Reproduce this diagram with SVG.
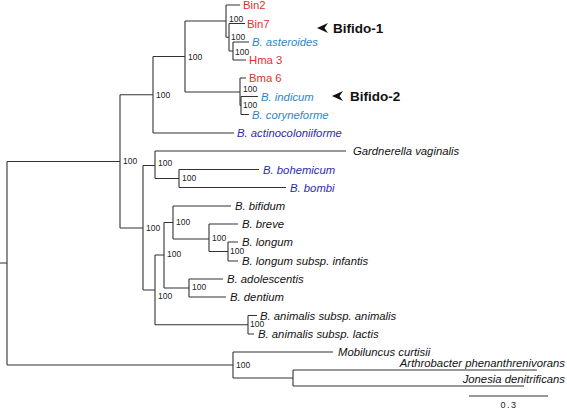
<svg xmlns="http://www.w3.org/2000/svg" width="567" height="412" viewBox="0 0 567 412">
<style>
.br{stroke:#333;stroke-width:1.1;fill:none}
.lf{font-family:"Liberation Sans",Arial,sans-serif;font-size:11.3px;font-style:italic;fill:#111}
.red{font-family:"Liberation Sans",Arial,sans-serif;font-size:11.3px;fill:#e0302c}
.lb{fill:#2d86c4}
.db{fill:#2b2bb0}
.bs{font-family:"Liberation Sans",Arial,sans-serif;font-size:8.5px;fill:#222}
.tag{font-family:"Liberation Sans",Arial,sans-serif;font-size:13.5px;font-weight:bold;fill:#111}
</style>
<rect width="567" height="412" fill="#fff"/>
<g id="connectors" class="br">
<path d="M0,263H7M7,161.5V365M7,161.5H120M7,365H233"/>
<path d="M120,94.75V228M120,94.75H153M120,228H143"/>
<path d="M153,56.5V133M153,56.5H185M153,133H234"/>
<path d="M185,21V92M185,21H226M185,92H240"/>
<path d="M226,5V37.3M226,5H240M226,37.3H229"/>
<path d="M229,23.5V51M229,23.5H245M229,51H233"/>
<path d="M233,42V60M233,42H249M233,60H246"/>
<path d="M240,78V105.5M240,78H246M240,105.5H241"/>
<path d="M241,96.5V114.5M241,96.5H258M241,114.5H249"/>
<path d="M143,165.5V290M143,165.5H155M143,290H155"/>
<path d="M155,151V178.5M155,151H346M155,178.5H179"/>
<path d="M179,169.5V187.5M179,169.5H259M179,187.5H286"/>
<path d="M155,255V324.75M155,255H164M155,324.75H248"/>
<path d="M164,222.5V288M164,222.5H173M164,288H189"/>
<path d="M173,206V239M173,206H231M173,239H209"/>
<path d="M209,224V251.5M209,224H238M209,251.5H228"/>
<path d="M228,242V261M228,242H238M228,261H238"/>
<path d="M189,279V297M189,279H223M189,297H226"/>
<path d="M248,315.5V334M248,315.5H257M248,334H254"/>
<path d="M233,352V378M233,352H333M233,378H293"/>
<path d="M293,370V386M293,370H537M293,386H524"/>
<path d="M469,396H548"/>
</g>
<g id="support" class="bs">
<text x="123" y="164">100</text>
<text x="156" y="98">100</text>
<text x="188" y="60">100</text>
<text x="229" y="22">100</text>
<text x="231" y="40">100</text>
<text x="235" y="55">100</text>
<text x="243" y="92">100</text>
<text x="243" y="108">100</text>
<text x="146" y="231">100</text>
<text x="158" y="166">100</text>
<text x="182" y="181">100</text>
<text x="176" y="225">100</text>
<text x="212" y="241">100</text>
<text x="230" y="254">100</text>
<text x="167" y="257">100</text>
<text x="192" y="290">100</text>
<text x="158" y="299">100</text>
<text x="250" y="327">100</text>
<text x="236" y="368">100</text>
</g>
<g id="n-bin2"><text class="red" x="243" y="9">Bin2</text></g>
<g id="n-bin7"><text class="red" x="247" y="27.5">Bin7</text></g>
<g id="n-asteroides"><text class="lf lb" x="252" y="46">B. asteroides</text></g>
<g id="n-hma3"><text class="red" x="249" y="64">Hma 3</text></g>
<g id="n-bma6"><text class="red" x="249" y="82">Bma 6</text></g>
<g id="n-indicum"><text class="lf lb" x="261" y="100.5">B. indicum</text></g>
<g id="n-coryneforme"><text class="lf lb" x="252" y="118.5">B. coryneforme</text></g>
<g id="n-actino"><text class="lf db" x="237" y="137">B. actinocoloniiforme</text></g>
<g id="n-gardnerella"><text class="lf" x="353" y="155">Gardnerella vaginalis</text></g>
<g id="n-bohemicum"><text class="lf db" x="263" y="173.5">B. bohemicum</text></g>
<g id="n-bombi"><text class="lf db" x="290" y="191.5">B. bombi</text></g>
<g id="n-bifidum"><text class="lf" x="235" y="210">B. bifidum</text></g>
<g id="n-breve"><text class="lf" x="242" y="228">B. breve</text></g>
<g id="n-longum"><text class="lf" x="242" y="246">B. longum</text></g>
<g id="n-infantis"><text class="lf" x="242" y="265">B. longum subsp. infantis</text></g>
<g id="n-adolescentis"><text class="lf" x="227" y="283">B. adolescentis</text></g>
<g id="n-dentium"><text class="lf" x="230" y="301">B. dentium</text></g>
<g id="n-animalis"><text class="lf" x="260" y="319.5">B. animalis subsp. animalis</text></g>
<g id="n-lactis"><text class="lf" x="258" y="338">B. animalis subsp. lactis</text></g>
<g id="n-mobiluncus"><text class="lf" x="338" y="356">Mobiluncus curtisii</text></g>
<g id="n-arthrobacter"><text class="lf" x="565" y="367" text-anchor="end">Arthrobacter phenanthrenivorans</text></g>
<g id="n-jonesia"><text class="lf" x="565" y="383" text-anchor="end">Jonesia denitrificans</text></g>
<g id="bifido1"><path d="M317,28L328,23L324.5,28L328,33Z" fill="#111"/><text class="tag" x="333" y="33">Bifido-1</text></g>
<g id="bifido2"><path d="M332,96L343,91L339.5,96L343,101Z" fill="#111"/><text class="tag" x="350" y="101">Bifido-2</text></g>
<g id="scale"><text x="509" y="408" text-anchor="middle" font-family="Liberation Sans, Arial, sans-serif" font-size="9" letter-spacing="1.5" fill="#222">0.3</text></g>
</svg>
